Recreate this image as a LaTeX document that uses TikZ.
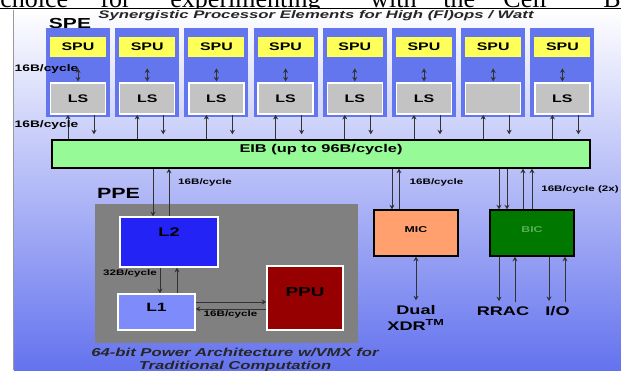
\documentclass[tikz,border=0pt]{standalone}
\usepackage{fontspec}
\newfontfamily\widesans{Liberation Sans}[FakeStretch=1.45]
\newfontfamily\headserif{Liberation Serif}
\usetikzlibrary{positioning, arrows.meta}

\definecolor{speblue}{RGB}{100,118,238}
\definecolor{spuyellow}{RGB}{255,255,90}
\definecolor{lsgray}{RGB}{195,195,195}
\definecolor{eibgreen}{RGB}{150,250,150}
\definecolor{ppegray}{RGB}{128,128,128}
\definecolor{ltwoblue}{RGB}{35,35,245}
\definecolor{loneblue}{RGB}{125,140,250}
\definecolor{ppured}{RGB}{150,0,0}
\definecolor{micorange}{RGB}{255,160,110}
\definecolor{bicgreen}{RGB}{0,120,0}
\definecolor{bictext}{RGB}{90,175,90}
\definecolor{bgblue}{RGB}{100,115,238}
\definecolor{wiregray}{RGB}{50,50,50}

\begin{document}
\begin{tikzpicture}[x=1pt,y=-1pt,>={Stealth[length=4.5pt,width=5pt]},line width=0.8pt,
    spe node/.style={fill=speblue,minimum width=64pt,minimum height=89pt,inner sep=0pt},
    spu node/.style={fill=spuyellow,minimum width=56pt,minimum height=20pt,inner sep=0pt,
        font=\widesans\bfseries\fontsize{11}{11}\selectfont},
    ls node/.style={fill=lsgray,draw=white,line width=1.5pt,minimum width=55pt,minimum height=31pt,
        inner sep=0pt,font=\widesans\bfseries\fontsize{11}{11}\selectfont},
    bus node/.style={draw=black,line width=1.4pt,inner sep=0pt},
    cache node/.style={draw=white,line width=1.5pt,inner sep=0pt},
    wire/.style={draw=wiregray,line width=0.8pt},
    small label/.style={inner sep=0pt,font=\widesans\bfseries\fontsize{8}{8}\selectfont},
    big label/.style={inner sep=0pt,font=\widesans\bfseries\fontsize{12.5}{15.5}\selectfont}]

\useasboundingbox (0,0) rectangle (621,370);

% cut-off line of page text above the slide
\begin{scope}
  \clip (0,0) rectangle (621,8.5);
  \node[anchor=base west,inner sep=0pt,text depth=0pt,font=\headserif\fontsize{26}{26}\selectfont] (pagetext) at (0,7.5)
    {\makebox[100pt][l]{choice}\makebox[70pt][l]{for}\makebox[200pt][l]{experimenting}%
     \makebox[73pt][l]{with}\makebox[60pt][l]{the}\makebox[100pt][l]{Cell}B};
\end{scope}
\draw[line width=1.3pt] (0,8.8) -- (621,8.8);

% slide background
\shade[top color=white,bottom color=bgblue] (14,9.5) rectangle (621,370);
\draw[black!40,line width=1pt] (13.5,9.5) -- (13.5,370);

\node[inner sep=0pt,font=\widesans\bfseries\fontsize{14.5}{14.5}\selectfont] (spelabel) at (70,23.5) {SPE};
\node[inner sep=0pt,text=black!85,font=\widesans\bfseries\itshape\fontsize{11}{11}\selectfont] (title) at (316,15.5)
    {\scalebox{1.05}[1]{Synergistic Processor Elements for High (Fl)ops / Watt}};

% the eight SPEs
\foreach \i/\lstext in {1/LS,2/LS,3/LS,4/LS,5/LS,6/LS,7/,8/LS} {
  \node[spe node] (spe\i) at ({78+69.2*(\i-1)},72.5) {};
  \node[spu node, below=9pt of spe\i.north] (spu\i) {SPU};
  \node[ls node, below=25pt of spu\i] (ls\i) {\lstext};
  \path (spu\i) edge[wire,<->,line width=1pt,shorten <=11pt,shorten >=1pt] (ls\i);
}

% EIB
\node[bus node,fill=eibgreen,minimum width=538pt,minimum height=28pt,text height=8pt,text depth=12pt,
    font=\widesans\bfseries\fontsize{11.3}{11.3}\selectfont] (eib) at (321,154) {EIB (up to 96B/cycle)};

\foreach \i in {1,...,8} {
  \coordinate (lsin\i) at ([xshift=-10pt]ls\i.south);
  \coordinate (lsout\i) at ([xshift=16pt]ls\i.south);
  \draw[wire,->] (lsin\i |- eib.north) -- (lsin\i);
  \draw[wire,->,shorten >=5pt] (lsout\i) -- (lsout\i |- eib.north);
}
\node[small label,font=\widesans\bfseries\fontsize{9.5}{9.5}\selectfont] (bwspu) at (46.5,69) {16B/cycle};
\node[small label,font=\widesans\bfseries\fontsize{9.5}{9.5}\selectfont] (bwls) at (46.5,125) {16B/cycle};

% PPE
\node[inner sep=0pt,font=\widesans\bfseries\fontsize{14.8}{14.8}\selectfont] (ppelabel) at (118.5,193) {PPE};
\node[fill=ppegray,minimum width=263pt,minimum height=139pt,inner sep=0pt] (ppe) at (226.5,273.5) {};
\node[cache node,fill=ltwoblue,minimum width=98pt,minimum height=50pt,text height=9pt,text depth=21pt,
    font=\widesans\bfseries\fontsize{12.5}{12.5}\selectfont] (l2) at (169,242) {L2};
\node[cache node,fill=loneblue,minimum width=77pt,minimum height=36pt,text height=8.6pt,text depth=9pt,
    font=\widesans\bfseries\fontsize{12}{12}\selectfont] (l1) at (156.5,312) {L1};
\node[cache node,fill=ppured,minimum width=76pt,minimum height=64pt,text height=9.3pt,text depth=13pt,
    font=\widesans\bfseries\fontsize{13}{13}\selectfont] (ppu) at (305,298) {PPU};

\coordinate (l2in) at ([xshift=-16pt]l2.north);
\coordinate (l2out) at (l2.north);
\draw[wire,->] (l2in |- eib.south) -- (l2in);
\draw[wire,->] (l2out) -- (l2out |- eib.south);
\node[small label] (bwppe) at (205,182) {16B/cycle};

\coordinate (l1in) at ([xshift=3.5pt]l1.north);
\coordinate (l1out) at ([xshift=20.5pt]l1.north);
\draw[wire,->] (l1in |- l2.south) -- (l1in);
\draw[wire,->] (l1out) -- (l1out |- l2.south);
\node[small label] (bwl2) at (130,273) {32B/cycle};

\coordinate (ppuin) at ([yshift=10pt]l1.east);
\coordinate (ppuout) at ([yshift=3pt]l1.east);
\draw[wire,->] (ppuin) -- (ppuin -| ppu.west);
\draw[wire,->] (ppuout -| ppu.west) -- (ppuout);
\node[small label] (bwl1) at (230.5,314) {16B/cycle};

\node[align=center,inner sep=0pt,text=black!85,font=\widesans\bfseries\itshape\fontsize{11.5}{13}\selectfont]
    (ppecap) at (235,360) {64-bit Power Architecture w/VMX for\\Traditional Computation};

% MIC
\node[bus node,fill=micorange,minimum width=84pt,minimum height=46pt,text height=6.1pt,text depth=8pt,
    font=\widesans\bfseries\fontsize{8.5}{8.5}\selectfont] (mic) at (416,233) {MIC};
\coordinate (micin) at ([xshift=-24pt]mic.north);
\coordinate (micout) at ([xshift=-17pt]mic.north);
\draw[wire,->] (micin |- eib.south) -- (micin);
\draw[wire,->] (micout) -- (micout |- eib.south);
\node[small label] (bwmic) at (436.5,182) {16B/cycle};
\node[big label,align=center] (xdr) at (416,318) {Dual\\XDR\textsuperscript{TM}};
\path (mic) edge[wire,<->,shorten >=5pt] (xdr);

% BIC
\node[bus node,fill=bicgreen,text=bictext,minimum width=84pt,minimum height=46pt,text height=6.1pt,text depth=8pt,
    font=\widesans\bfseries\fontsize{8.5}{8.5}\selectfont] (bic) at (532,233) {BIC};
\coordinate (bicin1) at ([xshift=-33pt]bic.north);
\coordinate (bicin2) at ([xshift=-25pt]bic.north);
\coordinate (bicout1) at ([xshift=-9pt]bic.north);
\coordinate (bicout2) at (bic.north);
\draw[wire,->] (bicin1 |- eib.south) -- (bicin1);
\draw[wire,->] (bicin2 |- eib.south) -- (bicin2);
\draw[wire,->] (bicout1) -- (bicout1 |- eib.south);
\draw[wire,->] (bicout2) -- (bicout2 |- eib.south);
\node[small label] (bwbic) at (580,189) {16B/cycle (2x)};

\node[big label] (rrac) at (503,311) {RRAC};
\node[big label] (io) at (557.5,311) {I/O};
\coordinate (rracdn) at ([xshift=-33pt]bic.south);
\coordinate (rracup) at ([xshift=-17pt]bic.south);
\coordinate (iodn) at ([xshift=17pt]bic.south);
\coordinate (ioup) at ([xshift=33pt]bic.south);
\draw[wire,->,shorten >=5pt] (rracdn) -- (rracdn |- rrac.north);
\draw[wire,->,shorten <=4pt] (rracup |- rrac.north) -- (rracup);
\draw[wire,->,shorten >=5pt] (iodn) -- (iodn |- io.north);
\draw[wire,->,shorten <=4pt] (ioup |- io.north) -- (ioup);
\end{tikzpicture}
\end{document}
